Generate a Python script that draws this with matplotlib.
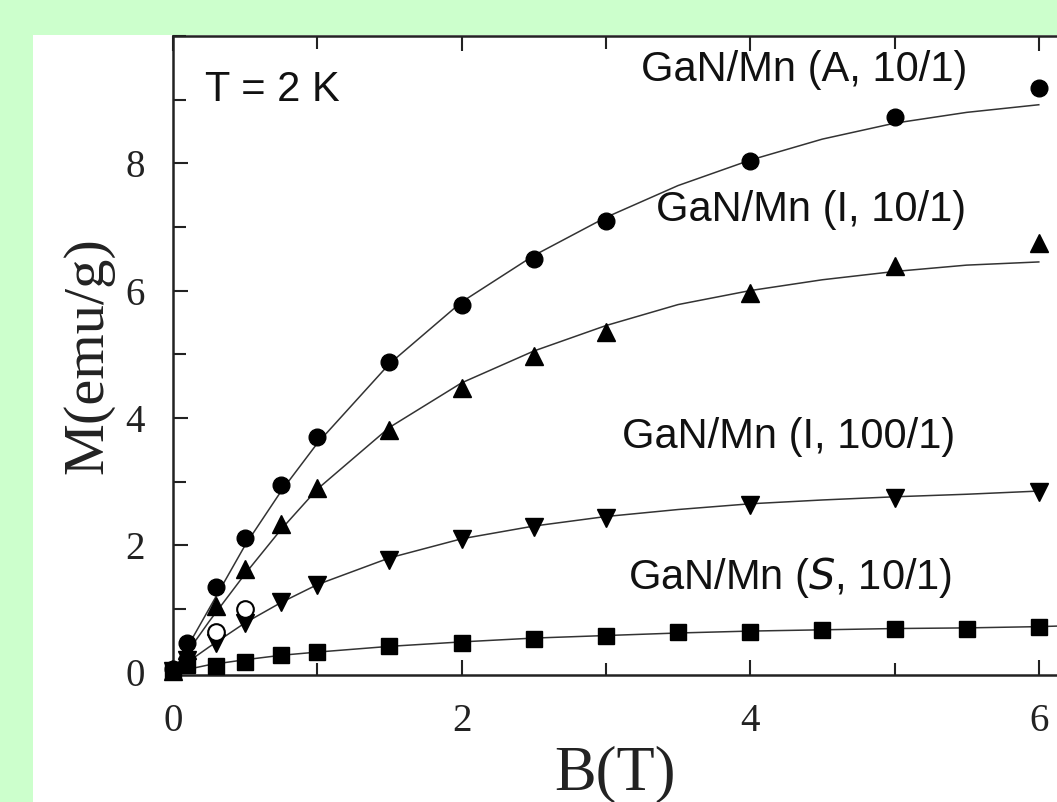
import matplotlib
matplotlib.use("Agg")
import matplotlib.pyplot as plt
from matplotlib.patches import Rectangle
from matplotlib.ticker import MultipleLocator

# ---- data ----
B_pts = [0.0, 0.1, 0.3, 0.5, 0.75, 1.0, 1.5, 2.0, 2.5, 3.0, 4.0, 5.0, 6.0]
M_A10 = [0.05, 0.47, 1.35, 2.12, 2.95, 3.70, 4.88, 5.77, 6.50, 7.09, 8.03, 8.72, 9.19]
M_I10 = [0.03, 0.35, 1.05, 1.63, 2.34, 2.90, 3.81, 4.47, 4.97, 5.35, 5.96, 6.38, 6.75]
M_I100 = [0.02, 0.20, 0.47, 0.78, 1.10, 1.38, 1.77, 2.09, 2.29, 2.43, 2.63, 2.74, 2.84]

B_S = [0.0, 0.1, 0.3, 0.5, 0.75, 1.0, 1.5, 2.0, 2.5, 3.0, 3.5, 4.0, 4.5, 5.0, 5.5, 6.0]
M_S10 = [0.02, 0.12, 0.10, 0.17, 0.28, 0.32, 0.41, 0.47, 0.52, 0.58, 0.63, 0.64, 0.67, 0.69, 0.69, 0.72]

B_open = [0.3, 0.5]
M_open = [0.64, 0.99]

B_fit = [0.0, 0.25, 0.5, 0.75, 1.0, 1.5, 2.0, 2.5, 3.0, 3.5, 4.0, 4.5, 5.0, 5.5, 6.0]
fit_A10 = [0.0, 1.0, 2.0, 2.85, 3.6, 4.85, 5.82, 6.55, 7.15, 7.65, 8.05, 8.38, 8.63, 8.8, 8.92]
fit_I10 = [0.0, 0.8, 1.55, 2.25, 2.88, 3.85, 4.55, 5.05, 5.45, 5.78, 6.0, 6.17, 6.3, 6.4, 6.45]
fit_I100 = [0.0, 0.4, 0.78, 1.1, 1.38, 1.8, 2.1, 2.3, 2.45, 2.56, 2.65, 2.71, 2.76, 2.8, 2.85]
B_fitS = [0.0, 0.25, 0.5, 0.75, 1.0, 1.5, 2.0, 2.5, 3.0, 3.5, 4.0, 4.5, 5.0, 5.5, 6.0, 6.15]
fit_S10 = [0.0, 0.12, 0.2, 0.27, 0.32, 0.41, 0.48, 0.54, 0.58, 0.62, 0.65, 0.67, 0.69, 0.7, 0.72, 0.73]

x_ticks = [0, 2, 4, 6]
y_ticks = [0, 2, 4, 6, 8]

W, H = 1057, 802
fig = plt.figure(figsize=(W / 100, H / 100), dpi=100, facecolor="#ccffcc")
bg = fig.add_axes([33 / W, 0, 1 - 33 / W, (H - 35) / H], zorder=-10)
bg.axis("off")
bg.add_patch(Rectangle((0, 0), 1, 1, transform=bg.transAxes, facecolor="white",
                       edgecolor="none"))

ax = fig.add_axes([173 / W, (H - 675) / H, (W - 173) / W, (675 - 36) / H], zorder=1)
ax.patch.set_alpha(0)
ax.set_xlim(0, (W - 173) / 144.3)
ax.set_ylim(-0.04, 10)

lc = "#333333"
ax.plot(B_fit, fit_A10, color=lc, lw=1.1, zorder=2)
ax.plot(B_fit, fit_I10, color=lc, lw=1.1, zorder=2)
ax.plot(B_fit, fit_I100, color=lc, lw=1.1, zorder=2)
ax.plot(B_fitS, fit_S10, color=lc, lw=1.1, zorder=2)

ax.plot(B_pts, M_A10, "o", color="black", ms=12, zorder=3, clip_on=False)
ax.plot(B_pts, M_I10, "^", color="black", ms=13.5, zorder=3, clip_on=False)
ax.plot(B_pts, M_I100, "v", color="black", ms=13.5, zorder=3, clip_on=False)
ax.plot(B_S, M_S10, "s", color="black", ms=12, zorder=3, clip_on=False)
ax.plot(B_open, M_open, "o", mfc="white", mec="black", mew=1.5, ms=12, zorder=4)

for s in ["left", "bottom", "top"]:
    ax.spines[s].set_linewidth(1.8)
    ax.spines[s].set_color("#222222")
ax.spines["right"].set_visible(False)

ax.set_xticks(x_ticks)
ax.set_yticks(y_ticks)
ax.xaxis.set_minor_locator(MultipleLocator(1))
ax.yaxis.set_minor_locator(MultipleLocator(1))
ax.tick_params(which="both", direction="in", top=True, right=False,
               width=1.5, color="#222222")
ax.tick_params(which="major", length=11)
ax.tick_params(which="minor", length=9)
ax.tick_params(axis="y", pad=20)
ax.tick_params(axis="x", pad=20)
for lab in ax.get_xticklabels() + ax.get_yticklabels():
    lab.set_fontfamily("Liberation Serif")
    lab.set_fontsize(28)
    lab.set_color("#222222")

ax.set_xlabel("B(T)", fontfamily="Liberation Serif", fontsize=45, labelpad=4,
              color="#222222")
ax.set_ylabel("M(emu/g)", fontfamily="Liberation Serif", fontsize=42, labelpad=8,
              color="#222222")

tkw = dict(fontfamily="Liberation Sans", fontsize=30, va="center", ha="left", color="#111111")
ax.text(0.22, 9.15, "T = 2 K", **tkw)
ax.text(3.24, 9.46, "GaN/Mn (A, 10/1)", **tkw)
ax.text(3.35, 7.26, "GaN/Mn (I, 10/1)", **tkw)
ax.text(3.11, 3.70, "GaN/Mn (I, 100/1)", **tkw)
ax.text(3.15, 1.49, "GaN/Mn ($\\mathit{S}$, 10/1)", **tkw)

fig.savefig("out.png", dpi=100, facecolor=fig.get_facecolor())
